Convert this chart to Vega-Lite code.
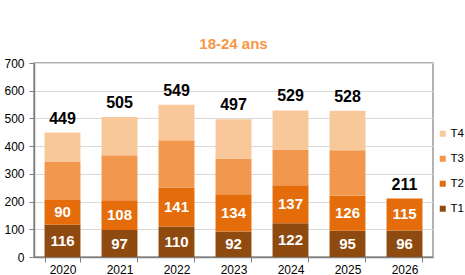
{
  "$schema": "https://vega.github.io/schema/vega-lite/v6.json",
  "autosize": {"type": "none"},
  "width": 399,
  "height": 194,
  "padding": {"left": 34, "top": 63, "right": 32, "bottom": 18},
  "background": "white",
  "title": {"text": "18-24 ans", "color": "#F79646", "fontSize": 15, "fontWeight": "bold", "font": "Liberation Sans", "anchor": "middle", "offset": 5},
  "config": {
    "font": "Liberation Sans",
    "view": {"stroke": "#9a9a9a", "strokeWidth": 1.5},
    "axisY": {"title": null, "labelFontSize": 12, "labelColor": "#000", "gridColor": "#d9d9d9", "gridWidth": 1.2, "tickColor": "#808080", "tickSize": 5, "domainColor": "#808080", "domainWidth": 1.5, "labelPadding": 5, "labelOverlap": false}
  },
  "data": {"values": [
    {"year": "2020", "serie": "T1", "value": 116},
    {"year": "2020", "serie": "T2", "value": 90},
    {"year": "2020", "serie": "T3", "value": 139},
    {"year": "2020", "serie": "T4", "value": 104},
    {"year": "2021", "serie": "T1", "value": 97},
    {"year": "2021", "serie": "T2", "value": 108},
    {"year": "2021", "serie": "T3", "value": 162},
    {"year": "2021", "serie": "T4", "value": 138},
    {"year": "2022", "serie": "T1", "value": 110},
    {"year": "2022", "serie": "T2", "value": 141},
    {"year": "2022", "serie": "T3", "value": 170},
    {"year": "2022", "serie": "T4", "value": 128},
    {"year": "2023", "serie": "T1", "value": 92},
    {"year": "2023", "serie": "T2", "value": 134},
    {"year": "2023", "serie": "T3", "value": 129},
    {"year": "2023", "serie": "T4", "value": 142},
    {"year": "2024", "serie": "T1", "value": 122},
    {"year": "2024", "serie": "T2", "value": 137},
    {"year": "2024", "serie": "T3", "value": 129},
    {"year": "2024", "serie": "T4", "value": 141},
    {"year": "2025", "serie": "T1", "value": 95},
    {"year": "2025", "serie": "T2", "value": 126},
    {"year": "2025", "serie": "T3", "value": 164},
    {"year": "2025", "serie": "T4", "value": 143},
    {"year": "2026", "serie": "T1", "value": 96},
    {"year": "2026", "serie": "T2", "value": 115}
  ]},
  "encoding": {
    "x": {
      "field": "year", "type": "nominal",
      "scale": {"paddingInner": 0.37, "paddingOuter": 0.185},
      "axis": {"title": null, "labelAngle": 0, "labelFontSize": 12, "labelColor": "#000", "labelPadding": 2, "tickBand": "extent", "tickSize": 5, "tickColor": "#808080", "domainColor": "#808080", "domainWidth": 1.5}
    }
  },
  "layer": [
    {
      "transform": [
        {"stack": "value", "groupby": ["year"], "sort": [{"field": "serie", "order": "ascending"}], "as": ["v0", "v1"]},
        {"calculate": "(datum.v0 + datum.v1) / 2", "as": "vmid"}
      ],
      "layer": [
        {
          "mark": {"type": "bar"},
          "encoding": {
            "y": {"field": "v0", "type": "quantitative", "scale": {"domain": [0, 700]},
              "axis": {"values": [0, 100, 200, 300, 400, 500, 600, 700]}},
            "y2": {"field": "v1"},
            "color": {"field": "serie", "type": "nominal",
              "scale": {"domain": ["T4", "T3", "T2", "T1"], "range": ["#F9C89A", "#F2984E", "#E46C0A", "#8F4A10"]},
              "legend": {"title": null, "orient": "none", "legendX": 403, "legendY": 65, "symbolType": "square", "symbolSize": 36, "symbolStrokeWidth": 0, "labelFontSize": 11.5, "labelColor": "#000", "rowPadding": 12, "labelOffset": 2}}
          }
        },
        {
          "transform": [{"filter": "datum.serie == 'T1' || datum.serie == 'T2'"}],
          "mark": {"type": "text", "color": "white", "fontSize": 15, "fontWeight": "bold", "baseline": "middle"},
          "encoding": {
            "y": {"field": "vmid", "type": "quantitative", "axis": {"values": [0, 100, 200, 300, 400, 500, 600, 700]}},
            "text": {"field": "value", "type": "quantitative"}
          }
        }
      ]
    },
    {
      "mark": {"type": "text", "color": "black", "fontSize": 16, "fontWeight": "bold", "baseline": "alphabetic", "dy": -9},
      "encoding": {
        "y": {"aggregate": "sum", "field": "value", "type": "quantitative", "axis": {"values": [0, 100, 200, 300, 400, 500, 600, 700]}},
        "text": {"aggregate": "sum", "field": "value", "type": "quantitative"}
      }
    }
  ]
}
